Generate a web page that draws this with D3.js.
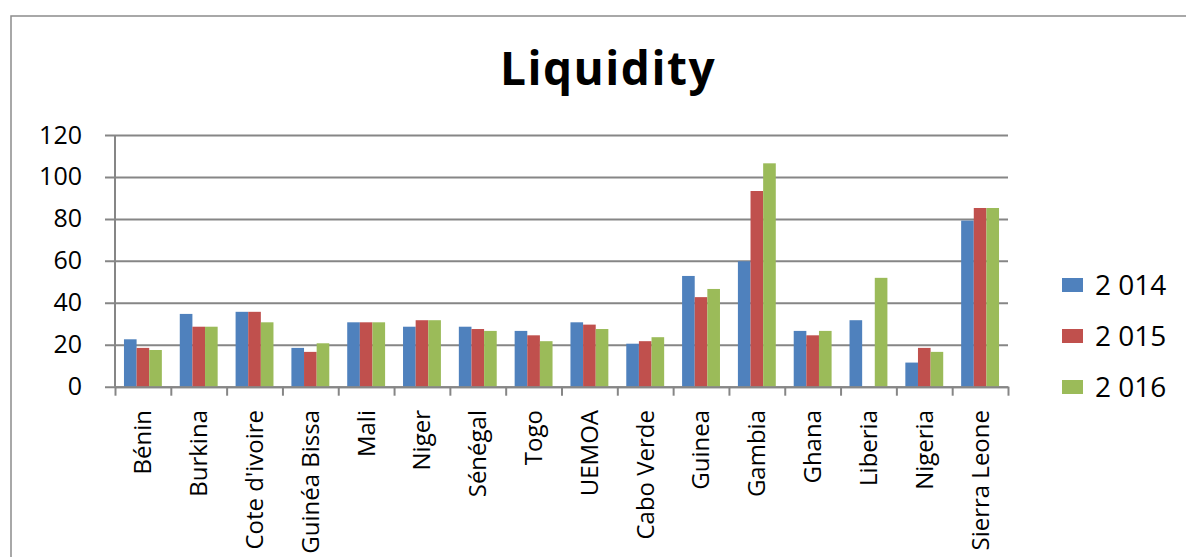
<!DOCTYPE html>
<html>
<head>
<meta charset="utf-8">
<script src="https://cdn.jsdelivr.net/npm/d3@7"></script>
<style>
	body { margin: 0; background: #fff; }
	text { font-family: 'Open Sans', sans-serif; fill: #000; }
</style>
</head>
<body>
<div id="graph"></div>
<script>
var categories = ['Bénin', 'Burkina', "Cote d'ivoire", 'Guinéa Bissa', 'Mali', 'Niger', 'Sénégal', 'Togo',
	'UEMOA', 'Cabo Verde', 'Guinea', 'Gambia', 'Ghana', 'Liberia', 'Nigeria', 'Sierra Leone']
var seriesNames = ['2 014', '2 015', '2 016']
var values2014 = [22.6, 34.7, 35.7, 18.5, 30.7, 28.6, 28.6, 26.6, 30.7, 20.5, 52.8, 59.8, 26.6, 31.7, 11.5, 79.2]
var values2015 = [18.5, 28.6, 35.7, 16.6, 30.7, 31.7, 27.5, 24.5, 29.6, 21.7, 42.7, 93.3, 24.5, 0, 18.5, 85.2]
var values2016 = [17.5, 28.6, 30.7, 20.7, 30.7, 31.7, 26.6, 21.7, 27.5, 23.6, 46.6, 106.5, 26.6, 51.9, 16.6, 85.2]
var yTicks = [0, 20, 40, 60, 80, 100, 120]
var colors = ['#4F81BD', '#C0504D', '#9BBB59']

var w = 1186
var h = 557
var plotLeft = 115
var plotRight = 1008
var plotTop = 135
var plotBottom = 386.7
var plotW = plotRight - plotLeft
var grey = '#868686'

var series = [values2014, values2015, values2016]

var svg = d3.select('#graph')
	.append('svg')
	.attr('width', w)
	.attr('height', h)

// outer chart frame (runs off the picture at right and bottom)
svg.append('rect')
	.attr('x', 11)
	.attr('y', 16)
	.attr('width', w)
	.attr('height', h)
	.attr('fill', 'none')
	.attr('stroke', '#8c8c8c')
	.attr('stroke-width', 1.5)

svg.append('text')
	.attr('x', 608)
	.attr('y', 85)
	.attr('text-anchor', 'middle')
	.style('font-size', '46px')
	.style('font-weight', 'bold')
	.style('letter-spacing', '1.5px')
	.text('Liquidity')

var yScale = d3.scaleLinear()
	.domain([0, 120])
	.range([plotBottom, plotTop])

var x0 = d3.scaleBand()
	.domain(categories)
	.range([0, plotW])
	.paddingInner(0)
	.paddingOuter(0)

var x1 = d3.scaleBand()
	.domain(seriesNames)
	.range([0, x0.bandwidth()])
	.paddingInner(0)
	.paddingOuter(0.71)

var xEdge = d3.scaleLinear()
	.domain([0, categories.length])
	.range([0, plotW])

// y axis with gridlines
var yAxisGroup = svg.append('g')
	.attr('transform', 'translate(' + plotLeft + ',0)')
	.call(d3.axisLeft(yScale).tickValues(yTicks).tickSize(0).tickPadding(33))

yAxisGroup.select('.domain').remove()
yAxisGroup.selectAll('.tick line')
	.attr('x1', -10)
	.attr('x2', plotW)
	.attr('stroke', grey)
	.attr('stroke-width', 2)
yAxisGroup.selectAll('.tick text')
	.style('font-size', '25px')
	.style('font-family', "'Open Sans', sans-serif")

// bars
var groups = svg.append('g')
	.attr('transform', 'translate(' + plotLeft + ',0)')
	.selectAll('g')
	.data(series)
	.enter()
	.append('g')
	.attr('fill', (d, i) => colors[i])

groups.selectAll('rect')
	.data((d, i) => d.map((v, j) => ({ v: v, s: seriesNames[i], c: categories[j] })))
	.enter()
	.append('rect')
	.attr('x', (d) => x0(d.c) + x1(d.s))
	.attr('width', x1.bandwidth())
	.attr('y', (d) => yScale(d.v))
	.attr('height', (d) => yScale(0) - yScale(d.v))

// y axis line
svg.append('line')
	.attr('x1', plotLeft)
	.attr('x2', plotLeft)
	.attr('y1', plotTop)
	.attr('y2', plotBottom)
	.attr('stroke', grey)
	.attr('stroke-width', 2)

// x axis with boundary ticks
var xAxisGroup = svg.append('g')
	.attr('transform', 'translate(' + plotLeft + ',' + plotBottom + ')')
	.call(d3.axisBottom(xEdge).ticks(categories.length).tickSize(9).tickSizeOuter(0).tickFormat(''))

xAxisGroup.select('.domain')
	.attr('stroke', grey)
	.attr('stroke-width', 2)
xAxisGroup.selectAll('.tick line')
	.attr('stroke', grey)
	.attr('stroke-width', 2)

// category labels, rotated
svg.append('g')
	.selectAll('text')
	.data(categories)
	.enter()
	.append('text')
	.attr('transform', (d) => 'translate(' + (plotLeft + x0(d) + x0.bandwidth() / 2) + ',410) rotate(-90)')
	.attr('text-anchor', 'end')
	.attr('dy', '0.35em')
	.style('font-size', '24px')
	.text((d) => d)

// legend
var legend = svg.append('g')
	.selectAll('g')
	.data(seriesNames)
	.enter()
	.append('g')
	.attr('transform', (d, i) => 'translate(1062,' + (285 + i * 51) + ')')

legend.append('rect')
	.attr('x', 0)
	.attr('y', -7)
	.attr('width', 21)
	.attr('height', 14)
	.attr('fill', (d, i) => colors[i])

legend.append('text')
	.attr('x', 33)
	.attr('y', 0)
	.attr('dy', '0.35em')
	.style('font-size', '28px')
	.text((d) => d)
</script>
</body>
</html>
